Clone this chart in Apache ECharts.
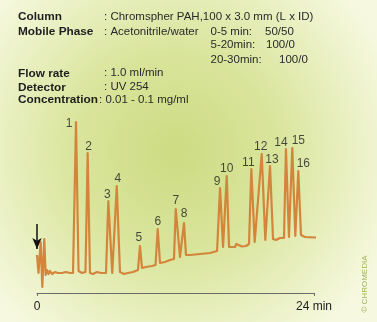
<!DOCTYPE html>
<html>
<head>
<meta charset="utf-8">
<script src="https://cdn.jsdelivr.net/npm/echarts@6/dist/echarts.min.js"></script>
<style>
html,body{margin:0;padding:0;background:#f6f9df;}
#c{width:377px;height:322px;}
</style>
</head>
<body>
<div id="c"></div>
<script>
// ---- data (time in min, detector signal in arbitrary units) ----
const traceTime = [0.0,0.13,0.32,0.46,0.63,0.75,0.87,1.00,1.13,1.30,1.56,1.82,2.17,2.51,2.86,3.12,
  3.38,3.60,3.90,4.20,4.39,4.59,4.85,5.20,5.55,5.98,6.18,6.52,6.91,7.19,7.54,7.88,8.32,8.75,
  8.92,9.10,9.44,9.96,10.27,10.46,10.66,11.09,11.52,11.87,12.02,12.39,12.74,12.91,13.26,14.12,
  14.99,15.60,15.86,16.12,16.44,16.64,17.16,17.27,17.41,17.76,18.11,18.37,18.57,18.86,19.47,
  19.78,20.19,20.45,20.71,21.05,21.40,21.57,21.83,22.12,22.38,22.64,22.87,23.22,24.09,25.21];
const traceSignal = [38,20,51,6,54,18,23,19,22,19,21,20,20,21,20,20,
  171,22,20,21,140,20,19,21,20,20,92,20,107,21,19,20,21,23,
  47,25,26,27,28,64,30,31,33,34,84,36,70,38,38,39,
  40,42,105,46,117,46,46,49,47,46.5,47,49,124,51,139,
  53,127,54,53,55,55,144,56,145,57,122,58,56,55.5,56];

const peakNames   = ['1','2','3','4','5','6','7','8','9','10','11','12','13','14','15','16'];
const peakTimes   = [3.38,4.39,6.18,6.91,8.92,10.46,12.02,12.74,15.86,16.44,18.57,19.47,20.19,21.57,22.12,22.64];
const peakSignals = [171,140,92,107,47,64,84,70,105,117,124,139,127,144,145,122];

const xTicks = [0, 24];
const xTickLabels = ['0', '24 min'];

const injectionTime = 0;
const injectionArrow = [69, 44];

const conditionLabels = ['Column', 'Mobile Phase', 'Flow rate', 'Detector', 'Concentration'];
const conditionValues = [': Chromspher PAH,100 x 3.0 mm (L x ID)', ': Acetonitrile/water', ': 1.0 ml/min', ': UV 254', ': 0.01 - 0.1 mg/ml'];
const gradientSteps = ['0-5 min:', '5-20min:', '20-30min:'];
const gradientRatios = ['50/50', '100/0', '100/0'];

// ---- layout / style (not data) ----
const labelOffsets = [[-7,2],[1,-6],[-1,-6],[1,-7],[-1,-8],[0,-7],[0,-8],[0,-9],
  [-3,-6],[0,-7],[-3,-6],[-1,-7],[2,-6],[-5,-6],[6,-7],[5,-7]];
const condY = [16.7, 31.7, 73.3, 87.3, 100];
const condX = [104, 104, 104, 104, 99];
const gradY = [31.7, 45, 60];
const gradRatioX = [265, 266, 279];
const FONT = '"Liberation Sans", Arial, sans-serif';

const chart = echarts.init(document.getElementById('c'), null, {renderer: 'canvas'});

const bgGradient = {
  type: 'radial', x: 0.465, y: 0.47, r: 0.72, global: false,
  colorStops: [
    {offset: 0, color: '#cddb82'},
    {offset: 0.45, color: '#dae59d'},
    {offset: 1, color: '#f6f9e0'}
  ]
};

const graphics = [{
  type: 'rect', z: -100, silent: true, left: 0, top: 0,
  shape: {x: 0, y: 0, width: 377, height: 322},
  style: {fill: bgGradient}
}];
conditionLabels.forEach((t, i) => {
  graphics.push({type:'text', x:18, y:condY[i], style:{text:t, fill:'#1e1e1e',
    font:'bold 11.8px ' + FONT, textVerticalAlign:'middle'}});
  graphics.push({type:'text', x:condX[i], y:condY[i], style:{text:conditionValues[i], fill:'#2a2a2a',
    font:'11.5px ' + FONT, textVerticalAlign:'middle'}});
});
gradientSteps.forEach((t, i) => {
  graphics.push({type:'text', x:210.5, y:gradY[i], style:{text:t, fill:'#2a2a2a',
    font:'11.5px ' + FONT, textVerticalAlign:'middle'}});
  graphics.push({type:'text', x:gradRatioX[i], y:gradY[i], style:{text:gradientRatios[i], fill:'#2a2a2a',
    font:'11.5px ' + FONT, textVerticalAlign:'middle'}});
});
graphics.push({type:'text', x:365, y:284, rotation:Math.PI/2, style:{text:'© CHROMEDIA', fill:'#a2b35a',
  font:'8px ' + FONT, textAlign:'center', textVerticalAlign:'middle'}});

const option = {
  animation: false,
  backgroundColor: bgGradient,
  graphic: graphics,
  grid: {left: 37, right: 63, top: 93, bottom: 29, containLabel: false},
  xAxis: {
    type: 'value', min: xTicks[0], max: xTicks[1], interval: xTicks[1] - xTicks[0],
    axisLine: {show: true, lineStyle: {color: '#6a6a6a', width: 1}},
    axisTick: {show: true, length: 3, lineStyle: {color: '#6a6a6a'}},
    splitLine: {show: false},
    axisLabel: {color: '#222', fontSize: 12, fontFamily: FONT, margin: 8,
      formatter: v => xTickLabels[xTicks.indexOf(v)] || ''}
  },
  yAxis: {type: 'value', min: 0, max: 200, show: false},
  series: [
    {
      type: 'line', clip: false, symbol: 'none', smooth: false,
      data: traceTime.map((t, i) => [t, traceSignal[i]]),
      lineStyle: {color: '#d4853c', width: 2.2, join: 'round'},
      z: 3,
      markLine: {
        silent: true, symbol: ['none', 'arrow'], symbolSize: [7, 11],
        label: {show: false},
        lineStyle: {color: '#111', width: 1.5, type: 'solid'},
        data: [[{coord: [injectionTime, injectionArrow[0]]}, {coord: [injectionTime, injectionArrow[1]]}]]
      }
    },
    {
      type: 'scatter', clip: false, symbolSize: 0, itemStyle: {color: 'rgba(0,0,0,0)'},
      data: peakTimes.map((t, i) => ({value: [t, peakSignals[i]], name: peakNames[i],
        label: {offset: labelOffsets[i]}})),
      label: {show: true, position: 'inside', formatter: p => p.name, color: '#1e1e1e',
        fontSize: 12, fontFamily: FONT},
      z: 4
    }
  ]
};
chart.setOption(option);
</script>
</body>
</html>
